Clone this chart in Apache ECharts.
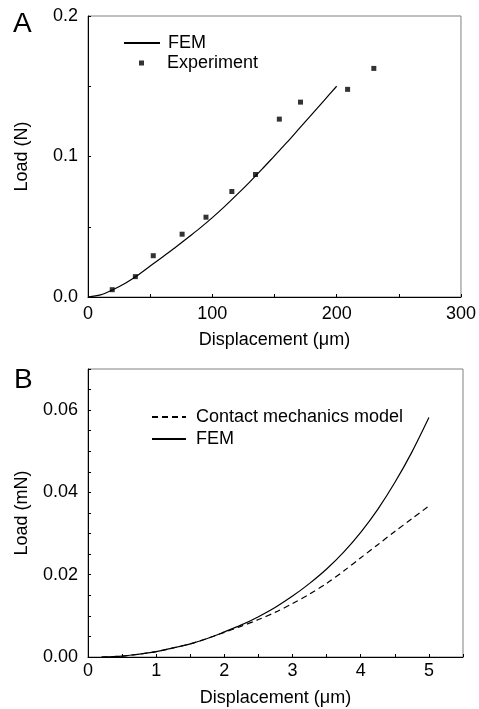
<!DOCTYPE html>
<html>
<head>
<meta charset="utf-8">
<script src="https://cdn.jsdelivr.net/npm/echarts@6/dist/echarts.min.js"></script>
<style>
  html, body { margin: 0; padding: 0; background: #fff; }
  #chart { width: 479px; height: 709px; }
</style>
</head>
<body>
<div id="chart"></div>
<script>
// panel A data
const femAX = [0, 10, 20, 30, 40, 50, 60, 70, 80, 90, 100, 110, 120, 130, 140, 150, 160, 170, 180, 190, 200]
const femAY = [0, 0.0015, 0.0052, 0.0098, 0.0155, 0.022, 0.0285, 0.035, 0.042, 0.049, 0.0565, 0.0645, 0.073, 0.0818, 0.091, 0.1005, 0.11, 0.12, 0.13, 0.14, 0.15]
const expX = [19.5, 38.1, 52.5, 75.7, 94.9, 115.7, 134.7, 153.9, 170.9, 208.8, 229.9]
const expY = [0.0052, 0.0145, 0.0294, 0.0447, 0.0568, 0.0751, 0.0872, 0.1266, 0.1387, 0.1478, 0.1627]
const aXLabels = [0, 100, 200, 300]
const aYLabels = [0, 0.1, 0.2]

// panel B data
const bX = [0.2, 0.5, 0.75, 1, 1.25, 1.5, 1.75, 2, 2.25, 2.5, 2.75, 3, 3.25, 3.5, 3.75, 4, 4.25, 4.5, 4.75, 5]
const femBY = [0, 0.0002, 0.0007, 0.0013, 0.0022, 0.0032, 0.0045, 0.0061, 0.0078, 0.0098, 0.0121, 0.0148, 0.0179, 0.0214, 0.0255, 0.0303, 0.0359, 0.0424, 0.0498, 0.0582]
const contactBY = [0, 0.0002, 0.0007, 0.0013, 0.0022, 0.0032, 0.0045, 0.006, 0.0075, 0.0091, 0.0109, 0.013, 0.0153, 0.0179, 0.0209, 0.0241, 0.0273, 0.0305, 0.0336, 0.0367]
const bXLabels = [0, 1, 2, 3, 4, 5]
const bYLabels = [0, 0.02, 0.04, 0.06]

const font = 'Liberation Sans, Arial, sans-serif'
const zip = (xs, ys) => xs.map((x, i) => [x, ys[i]])

// only show a label where the value is in the list
const labelFrom = (list, digits) => v => {
  const hit = list.find(l => Math.abs(l - v) < 1e-9)
  return hit === undefined ? '' : hit.toFixed(digits)
}

const axisCommon = {
  type: 'value',
  splitLine: { show: false },
  axisLine: { show: true, onZero: false, lineStyle: { color: '#000', width: 1 } },
  axisTick: { show: true, inside: true, length: 3, lineStyle: { color: '#000' } },
  axisLabel: { color: '#000', fontSize: 18, fontFamily: font, hideOverlap: false, showMinLabel: true, showMaxLabel: true },
  nameTextStyle: { color: '#000', fontSize: 18, fontFamily: font },
  nameLocation: 'middle'
}

// legend for a line: hide the default dot in the middle of the sample
const lineLegend = (name, left, top, width, pad) => ({
  data: [name], left, top, padding: 0,
  itemWidth: width, itemHeight: 10, selectedMode: false,
  itemStyle: { opacity: 0 },
  textStyle: { color: '#000', fontSize: 18, fontFamily: font, padding: [0, 0, 0, pad] }
})

const myChart = echarts.init(document.getElementById('chart'))

const option = {
  animation: false,
  backgroundColor: '#fff',
  grid: [
    { left: 88, top: 16, width: 375, height: 281, show: true, borderColor: '#808080', borderWidth: 1 },
    { left: 88, top: 369, width: 375, height: 288, show: true, borderColor: '#808080', borderWidth: 1 }
  ],
  xAxis: [
    {
      ...axisCommon, gridIndex: 0, min: 0, max: 300, interval: 50,
      name: 'Displacement (μm)', nameGap: 34,
      axisLabel: { ...axisCommon.axisLabel, margin: 8, formatter: labelFrom(aXLabels, 0) }
    },
    {
      ...axisCommon, gridIndex: 1, min: 0, max: 5.5, interval: 0.5,
      name: 'Displacement (μm)', nameGap: 32,
      axisLabel: { ...axisCommon.axisLabel, margin: 5, formatter: labelFrom(bXLabels, 0) }
    }
  ],
  yAxis: [
    {
      ...axisCommon, gridIndex: 0, min: 0, max: 0.2, interval: 0.05,
      name: 'Load (N)', nameGap: 57,
      axisLabel: { ...axisCommon.axisLabel, margin: 10, formatter: labelFrom(aYLabels, 1) }
    },
    {
      ...axisCommon, gridIndex: 1, min: 0, max: 0.07, interval: 0.005,
      name: 'Load (mN)', nameGap: 57,
      axisLabel: { ...axisCommon.axisLabel, margin: 10, formatter: labelFrom(bYLabels, 2) }
    }
  ],
  legend: [
    lineLegend('FEM', 123, 34, 36, 3),
    {
      data: ['Experiment'], left: 139, top: 54, padding: 0,
      itemWidth: 5, itemHeight: 5, selectedMode: false,
      textStyle: { color: '#000', fontSize: 18, fontFamily: font, padding: [0, 0, 0, 18] }
    },
    lineLegend('Contact mechanics model', 151, 408, 34, 5),
    lineLegend('FEM', 151, 430, 34, 5)
  ],
  graphic: [
    { type: 'text', left: 13, top: 10, style: { text: 'A', fontSize: 28, fontFamily: font, fill: '#000' } },
    { type: 'text', left: 14, top: 366, style: { text: 'B', fontSize: 28, fontFamily: font, fill: '#000' } }
  ],
  series: [
    {
      name: 'FEM', type: 'line', xAxisIndex: 0, yAxisIndex: 0,
      symbol: 'none', smooth: 0.3,
      itemStyle: { color: '#000' },
      lineStyle: { color: '#000', width: 1.2 },
      data: zip(femAX, femAY)
    },
    {
      name: 'Experiment', type: 'scatter', xAxisIndex: 0, yAxisIndex: 0,
      symbol: 'rect', symbolSize: 5,
      itemStyle: { color: '#000' },
      data: zip(expX, expY)
    },
    {
      name: 'Contact mechanics model', type: 'line', xAxisIndex: 1, yAxisIndex: 1,
      symbol: 'none', smooth: 0.3,
      itemStyle: { color: '#000' },
      lineStyle: { color: '#000', width: 1.2, type: [6, 4] },
      data: zip(bX, contactBY)
    },
    {
      name: 'FEM', type: 'line', xAxisIndex: 1, yAxisIndex: 1,
      symbol: 'none', smooth: 0.3,
      itemStyle: { color: '#000' },
      lineStyle: { color: '#000', width: 1.2 },
      data: zip(bX, femBY)
    }
  ]
}

myChart.setOption(option)
</script>
</body>
</html>
